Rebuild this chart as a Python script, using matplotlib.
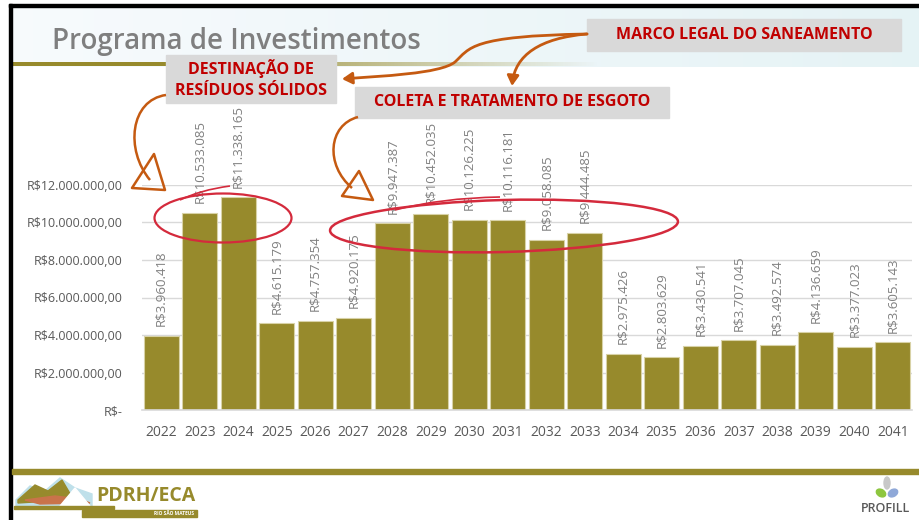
import numpy as np
import matplotlib
matplotlib.use("Agg")
import matplotlib.pyplot as plt
from matplotlib.patches import Rectangle, Ellipse, Polygon, PathPatch, FancyArrowPatch
from matplotlib.path import Path
from matplotlib.ticker import FixedLocator

# ── data ────────────────────────────────────────────────────────────────────
years = [str(y) for y in range(2022, 2042)]
investment = [
    3960418, 10533085, 11338165, 4615179, 4757354, 4920175,
    9947387, 10452035, 10126225, 10116181, 9058085, 9444485,
    2975426, 2803629, 3430541, 3707045, 3492574, 4136659,
    3377023, 3605143,
]
y_ticks = [0, 2e6, 4e6, 6e6, 8e6, 10e6, 12e6]
y_tick_labels = ["R$-", "R$2.000.000,00", "R$4.000.000,00", "R$6.000.000,00",
                 "R$8.000.000,00", "R$10.000.000,00", "R$12.000.000,00"]

OLIVE = "#978a2c"
ORANGE = "#c55a11"
RED_TXT = "#c00000"
RED_RING = "#d42a3c"
GRAY_BOX = "#d9d9d9"

plt.rcParams["font.family"] = ["Open Sans", "DejaVu Sans"]

W, H = 920, 520
fig = plt.figure(figsize=(W / 100, H / 100), dpi=100)


def px_axes(z):
    a = fig.add_axes([0, 0, 1, 1], zorder=z)
    a.set_xlim(0, W)
    a.set_ylim(H, 0)
    a.axis("off")
    a.patch.set_alpha(0)
    return a


# ── slide background: header band, borders, footer ─────────────────────────
bg = px_axes(0)
grad = np.linspace(0, 1, 256)
band = np.zeros((1, 256, 3))
band[0, :, 0] = 0.970 - 0.07 * grad
band[0, :, 1] = 0.983 - 0.03 * grad
band[0, :, 2] = 0.992 - 0.03 * grad
bg.imshow(band, extent=(12, W, 67, 7), aspect="auto", zorder=0)

# olive rule under the title, fading out to the right
rule = np.zeros((1, 256, 4))
rule[0, :, :3] = matplotlib.colors.to_rgb(OLIVE)
rule[0, :, 3] = np.clip(1.4 - 1.4 * grad, 0, 1)
bg.imshow(rule, extent=(12, 600, 66, 62), aspect="auto", zorder=1)

bg.add_patch(Rectangle((9, 4), W, 3, color="black", zorder=2))
bg.add_patch(Rectangle((9, 4), 3, H, color="black", zorder=2))
bg.add_patch(Rectangle((12, 469), W, 5, color=OLIVE, zorder=2))

bg.text(52, 41, "Programa de Investimentos", fontsize=20, fontweight="semibold",
        color="#7f7f7f", va="center", ha="left")

# PDRH/ECA logo
bg.add_patch(Polygon([(16, 500), (30, 486), (45, 491), (60, 478), (75, 488),
                      (92, 494), (92, 508), (16, 508)], color="#bfe0ea", zorder=2))
bg.add_patch(Polygon([(18, 500), (35, 485), (48, 491), (62, 480), (72, 497),
                      (50, 501), (18, 503)], color=OLIVE, zorder=3))
bg.add_patch(Polygon([(25, 500), (55, 496), (80, 499), (90, 503), (40, 504)],
                     color="#c9734a", zorder=3))
bg.add_patch(Polygon([(60, 506), (75, 488), (90, 506)], color="white", zorder=3))
bg.add_patch(Rectangle((14, 506), 100, 3, color=OLIVE, zorder=3))
bg.add_patch(Rectangle((82, 510), 115, 7, color=OLIVE, zorder=3))
bg.text(96, 496, "PDRH/ECA", fontsize=14, fontweight="bold", color=OLIVE,
        va="center", ha="left")
bg.text(194, 513.5, "RIO SÃO MATEUS", fontsize=3.5, fontweight="bold",
        color="white", va="center", ha="right")

# PROFILL logo
bg.add_patch(Ellipse((887, 483), 6, 12, color="#c8c8c8", zorder=3))
bg.add_patch(Ellipse((881, 493), 10, 7, angle=30, color="#8dc63f", zorder=3))
bg.add_patch(Ellipse((893, 493), 10, 7, angle=-30, color="#8fa8d8", zorder=3))
bg.text(886, 508, "PROFILL", fontsize=9, fontweight="semibold",
        color="#595959", va="center", ha="center")

# ── bar chart ───────────────────────────────────────────────────────────────
ax_l, ax_r, ax_t, ax_b = 142, 912, 185, 410
ax = fig.add_axes([ax_l / W, 1 - ax_b / H, (ax_r - ax_l) / W, (ax_b - ax_t) / H],
                  zorder=1)
ax.patch.set_alpha(0)
x = np.arange(len(years))
ax.bar(x, investment, width=0.91, color=OLIVE, edgecolor="#d8d2a6",
       linewidth=0.8, zorder=2)
ax.set_xlim(-0.5, len(years) - 0.5)
ax.set_ylim(0, 12e6)
ax.yaxis.set_major_locator(FixedLocator(y_ticks))
ax.set_yticklabels(y_tick_labels)
ax.set_xticks(x)
ax.set_xticklabels(years)
ax.tick_params(axis="y", length=0, pad=14, labelsize=9, labelcolor="#595959")
ax.tick_params(axis="x", length=0, pad=11, labelsize=10, labelcolor="#595959")
ax.grid(axis="y", color="#d9d9d9", linewidth=1, zorder=0)
for side in ["top", "right", "left"]:
    ax.spines[side].set_visible(False)
ax.spines["bottom"].set_color("#d9d9d9")
ax.spines["bottom"].set_linewidth(1.2)

for xi, v in zip(x, investment):
    label = "R$" + f"{v:,}".replace(",", ".")
    ax.annotate(label, (xi, v), xytext=(0, 7), textcoords="offset points",
                rotation=90, ha="center", va="bottom", fontsize=9.5,
                color="#808080", annotation_clip=False, zorder=3)

# ── callouts drawn over the chart ───────────────────────────────────────────
fg = px_axes(4)


def callout(x0, y0, x1, y1, lines):
    fg.add_patch(Rectangle((x0, y0), x1 - x0, y1 - y0, color=GRAY_BOX, zorder=2))
    fg.text((x0 + x1) / 2, (y0 + y1) / 2, lines, fontsize=11.5, fontweight="bold",
            color=RED_TXT, ha="center", va="center", linespacing=1.4, zorder=3)


callout(587, 19, 901, 51, "MARCO LEGAL DO SANEAMENTO")
callout(166, 55, 336, 103, "DESTINAÇÃO DE\nRESÍDUOS SÓLIDOS")
callout(355, 87, 669, 118, "COLETA E TRATAMENTO DE ESGOTO")

# orange arrows from the legal framework box
curve1 = Path([(587, 34), (470, 36), (470, 48), (455, 62),
               (440, 74), (380, 76), (342, 79)],
              [Path.MOVETO, Path.CURVE4, Path.CURVE4, Path.CURVE4,
               Path.CURVE4, Path.CURVE4, Path.CURVE4])
fg.add_patch(FancyArrowPatch(path=curve1, arrowstyle="-|>,head_length=6,head_width=3.5",
                             color=ORANGE, lw=2, zorder=4))
curve2 = Path([(587, 34), (540, 38), (515, 55), (512, 86)],
              [Path.MOVETO, Path.CURVE4, Path.CURVE4, Path.CURVE4])
fg.add_patch(FancyArrowPatch(path=curve2, arrowstyle="-|>,head_length=6,head_width=3.5",
                             color=ORANGE, lw=2, zorder=4))

# hand-drawn arrows with open triangular heads
for verts, tri in [
    ([(166, 95), (130, 100), (125, 150), (150, 180)],
     [(132, 188), (154, 154), (165, 190)]),
    ([(358, 117), (328, 125), (325, 165), (352, 188)],
     [(342, 196), (359, 171), (373, 200)]),
]:
    fg.add_patch(PathPatch(Path(verts, [Path.MOVETO, Path.CURVE4, Path.CURVE4, Path.CURVE4]),
                           fill=False, edgecolor=ORANGE, lw=1.8, zorder=4))
    fg.add_patch(Polygon(tri, closed=True, fill=False, edgecolor=ORANGE,
                         lw=1.8, joinstyle="round", zorder=4))

# red rings around the peak years
fg.add_patch(Ellipse((223, 218), 137, 49, fill=False, edgecolor=RED_RING, lw=1.6, zorder=4))
fg.add_patch(PathPatch(Path([(180, 200), (200, 190), (230, 186)],
                            [Path.MOVETO, Path.CURVE3, Path.CURVE3]),
                       fill=False, edgecolor=RED_RING, lw=1.2, zorder=4))
fg.add_patch(Ellipse((504, 226), 348, 52, angle=-1.5, fill=False,
                     edgecolor=RED_RING, lw=1.8, zorder=4))
fg.add_patch(PathPatch(Path([(395, 210), (440, 198), (500, 197)],
                            [Path.MOVETO, Path.CURVE3, Path.CURVE3]),
                       fill=False, edgecolor=RED_RING, lw=1.2, zorder=4))

fig.savefig("out.png", dpi=100)
